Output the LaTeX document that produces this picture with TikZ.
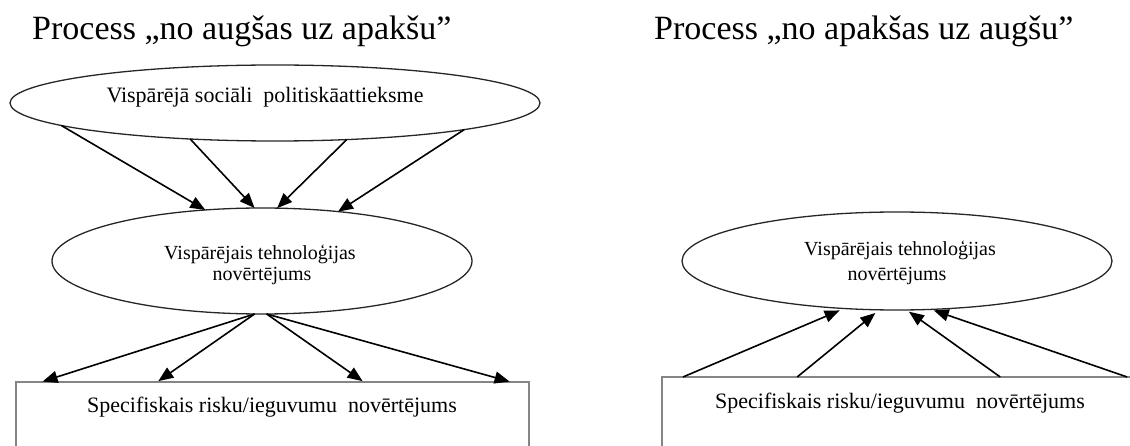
\documentclass[tikz,border=0pt]{standalone}
\usepackage{fontspec}
\setmainfont{Liberation Serif}
\usetikzlibrary{shapes.geometric,arrows.meta,calc}
\begin{document}
\begin{tikzpicture}[x=1pt,y=-1pt,
  oval/.style={draw=black!85,line width=1.3pt,ellipse,inner sep=0pt,outer sep=0pt},
  box/.style={draw=black!48,line width=2.2pt,rectangle,inner sep=0pt,outer sep=0pt},
  flow/.style={line width=1.6pt,-{Triangle[length=15pt,width=12pt]}},
  heading/.style={font=\fontsize{34}{40}\selectfont,anchor=base west,inner sep=0pt},
  label/.style={anchor=base,inner sep=0pt},
  big/.style={label,font=\fontsize{22}{26}\selectfont},
  small/.style={label,font=\fontsize{20}{24}\selectfont}
]
\useasboundingbox (0,0) rectangle (1130,446);
\clip (0,0) rectangle (1130,446);

% headings
\node[heading] (h1) at (32,40) {Process „no augšas uz apakšu”};
\node[heading] (h2) at (654,40) {Process „no apakšas uz augšu”};

% left column: top-down
\node[oval,minimum width=530,minimum height=76] (soc) at (275,103) {};
\node[big] (soct) at (265,103) {Vispārējā sociāli~~politiskāattieksme};

\node[oval,minimum width=420,minimum height=106] (techL) at (262,261) {};
\node[small] (techLa) at (260,260) {Vispārējais tehnoloģijas};
\node[small] (techLb) at (262,281) {novērtējums};

\node[box,minimum width=513,minimum height=100] (specL) at (272.5,432) {};
\node[big] (specLt) at (272,412) {Specifiskais risku/ieguvumu~~novērtējums};

\draw[flow] (soc.186) -- (techL.138);
\draw[flow] (soc.203) -- (techL.98);
\draw[flow] (soc.333) -- (techL.74);
\draw[flow] (soc.352) -- (techL.33);

\draw[flow,shorten >=1.5pt] (techL.262) -- ($(specL.north west)!0.049!(specL.north east)$);
\draw[flow,shorten >=1.5pt] (techL.262) -- ($(specL.north west)!0.275!(specL.north east)$);
\draw[flow,shorten >=1.5pt] (techL.275) -- ($(specL.north west)!0.678!(specL.north east)$);
\draw[flow,shorten >=1.5pt] (techL.275) -- ($(specL.north west)!0.965!(specL.north east)$);

% right column: bottom-up
\node[oval,minimum width=430,minimum height=98] (techR) at (897,261) {};
\node[small] (techRa) at (900,256) {Vispārējais tehnoloģijas};
\node[small] (techRb) at (897,281) {novērtējums};

\node[box,minimum width=518,minimum height=103] (specR) at (921,428.5) {};
\node[big] (specRt) at (900,408) {Specifiskais risku/ieguvumu~~novērtējums};

\draw[flow,shorten >=5pt] ($(specR.north west)!0.0405!(specR.north east)$) -- (techR.222);
\draw[flow,shorten >=5pt] ($(specR.north west)!0.261!(specR.north east)$) -- (techR.250.6);
\draw[flow,shorten >=3pt] ($(specR.north west)!0.653!(specR.north east)$) -- (techR.281);
\draw[flow,shorten >=3pt] ($(specR.north west)!0.898!(specR.north east)$) -- (techR.305.2);
\end{tikzpicture}
\end{document}
